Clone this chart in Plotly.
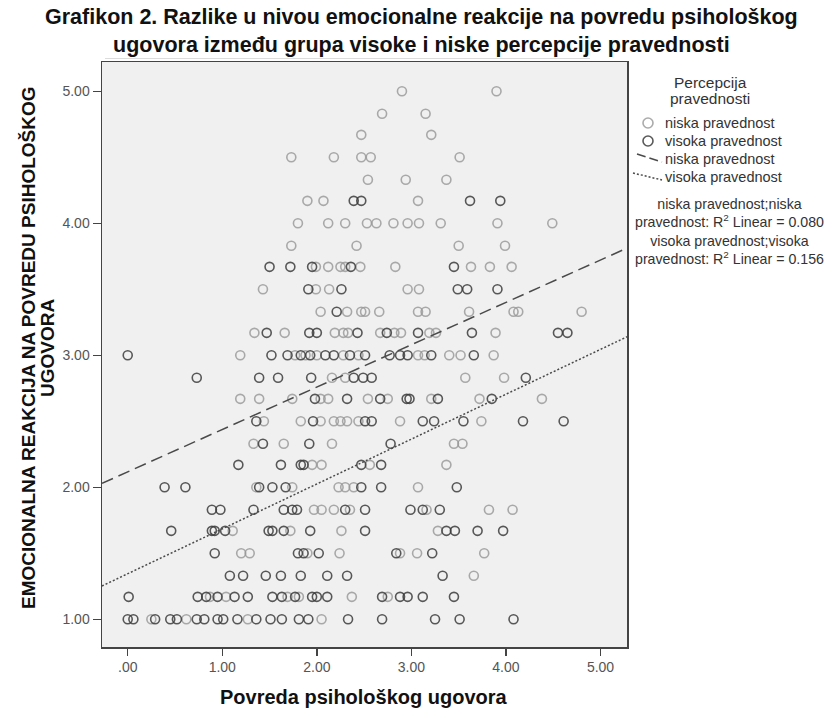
import plotly.graph_objects as go

# ---------------- data ----------------
x_tick_vals = [0, 1, 2, 3, 4, 5]
x_tick_text = [".00", "1.00", "2.00", "3.00", "4.00", "5.00"]
y_tick_vals = [1, 2, 3, 4, 5]
y_tick_text = ["1.00", "2.00", "3.00", "4.00", "5.00"]

# niska pravednost (low justice perception): y level -> x values
niska_levels = [5.00, 4.83, 4.67, 4.50, 4.33, 4.17, 4.00, 3.83, 3.67, 3.50, 3.33, 3.17, 3.00,
                2.83, 2.67, 2.50, 2.33, 2.17, 2.00, 1.83, 1.67, 1.50, 1.33, 1.17, 1.00]
niska_x_by_level = [
    [2.90, 3.90],
    [2.69, 3.15],
    [2.47, 3.21],
    [1.73, 2.18, 2.47, 2.57, 3.51],
    [2.54, 2.94, 3.37],
    [1.90, 2.07, 3.07],
    [1.80, 2.12, 2.30, 2.53, 2.63, 2.81, 2.96, 3.08, 3.31, 3.91, 4.49],
    [1.73, 2.42, 3.50, 3.99],
    [1.99, 2.12, 2.25, 2.30, 2.46, 2.83, 3.63, 3.83, 4.06],
    [1.43, 1.99, 2.13, 2.96, 3.08],
    [2.04, 2.32, 2.47, 2.51, 2.66, 3.07, 3.15, 3.61, 4.08, 4.13, 4.80],
    [1.34, 1.66, 2.19, 2.28, 2.33, 2.67, 2.82, 2.89, 3.19, 3.26, 3.89],
    [1.19, 1.77, 1.88, 2.00, 2.28, 2.44, 3.07, 3.14, 3.40, 3.52, 3.87],
    [2.16, 2.30, 3.57, 3.98],
    [1.19, 1.39, 1.74, 2.04, 2.12, 2.54, 2.75, 3.21, 3.72, 4.38],
    [1.44, 1.83, 2.04, 2.18, 2.25, 2.32, 2.44, 2.88, 3.74],
    [1.33, 1.65, 2.16, 3.45, 3.54],
    [1.95, 2.05, 2.56, 3.37],
    [1.36, 1.74, 2.23, 2.30, 2.39, 3.07],
    [1.97, 2.05, 2.18, 2.35, 3.16, 3.82, 4.07],
    [1.11, 1.72, 2.26, 3.28],
    [1.20, 1.29, 1.90, 2.24, 2.88, 3.06, 3.77],
    [3.66],
    [0.87, 1.04, 1.69, 1.81, 2.37, 2.75],
    [0.25, 0.62, 1.27, 2.05],
]

# visoka pravednost (high justice perception): y level -> x values
visoka_levels = [4.17, 3.67, 3.50, 3.33, 3.17, 3.00, 2.83, 2.67, 2.50, 2.33, 2.17, 2.00,
                 1.83, 1.67, 1.50, 1.33, 1.17, 1.00]
visoka_x_by_level = [
    [2.39, 2.47, 3.62, 3.94],
    [1.50, 1.72, 1.95, 2.36, 3.45],
    [1.91, 2.26, 3.49, 3.59, 3.91],
    [2.21],
    [1.47, 1.92, 2.00, 2.43, 2.74, 3.07, 3.64, 4.55, 4.65],
    [0.00, 1.52, 1.69, 1.83, 1.93, 2.09, 2.18, 2.35, 2.51, 2.77, 2.88, 2.96, 3.21, 3.66],
    [0.73, 1.39, 1.59, 1.94, 2.39, 2.49, 2.58, 4.21],
    [1.98, 2.32, 2.67, 2.95, 2.98, 3.28, 3.85],
    [1.36, 1.96, 2.51, 2.58, 3.12, 3.24, 3.55, 4.18, 4.61],
    [1.43, 1.92, 2.78],
    [1.17, 1.62, 1.83, 1.86, 2.47, 2.68],
    [0.39, 0.61, 1.39, 1.53, 1.67, 2.47, 2.68, 3.48],
    [0.89, 0.98, 1.33, 1.65, 1.74, 1.79, 2.30, 2.51, 2.99, 3.12, 3.30],
    [0.46, 0.89, 0.92, 1.03, 1.49, 1.53, 1.65, 1.93, 2.51, 3.37, 3.46, 3.70, 3.97],
    [0.92, 1.80, 1.86, 2.02, 2.84, 3.22],
    [1.08, 1.22, 1.46, 1.62, 1.83, 2.11, 2.32, 3.33],
    [0.01, 0.74, 0.83, 0.95, 1.13, 1.27, 1.53, 1.63, 1.77, 1.95, 2.00, 2.11, 2.69, 2.88, 2.96, 3.12, 3.45],
    [0.00, 0.06, 0.29, 0.45, 0.52, 0.73, 0.81, 0.95, 1.01, 1.16, 1.36, 1.51, 1.63, 1.81, 1.91, 2.33, 2.69, 3.25, 3.51, 4.08],
]

# linear fit lines (intercept, slope) and R^2 per group
group_names = ["niska pravednost", "visoka pravednost"]
fit_intercepts = [2.117, 1.345]
fit_slopes = [0.321, 0.340]
fit_r2 = [0.080, 0.156]

x_range = [-0.272, 5.28]
y_range = [0.79, 5.222]

title_lines = ["Grafikon 2. Razlike u nivou emocionalne reakcije na povredu psihološkog",
               "ugovora između grupa visoke i niske percepcije pravednosti"]
x_title = "Povreda psihološkog ugovora"
y_title_lines = ["EMOCIONALNA REAKCIJA NA POVREDU PSIHOLOŠKOG", "UGOVORA"]
legend_title_lines = ["Percepcija", "pravednosti"]


def flatten(levels, xs_by_level):
    xs, ys = [], []
    for lv, xs_l in zip(levels, xs_by_level):
        for xv in xs_l:
            xs.append(xv)
            ys.append(lv)
    return xs, ys


nx, ny = flatten(niska_levels, niska_x_by_level)
vx, vy = flatten(visoka_levels, visoka_x_by_level)

# ---------------- layout geometry (pixels) ----------------
W, H = 830, 708
ML, MR, MT, MB = 102, 203, 62, 61
PW, PH = W - ML - MR, H - MT - MB


def px(xp):
    return (xp - ML) / PW


def py(yp):
    return (H - MB - yp) / PH


FONT = "Liberation Sans, Arial, sans-serif"
LIGHT = "rgba(150,150,150,0.8)"
DARK = "rgba(60,60,60,0.85)"
colors = [LIGHT, DARK]
dashes = ["12px,6px", "2px,2px"]

fig = go.Figure()
for (xs, ys), name, col in zip([(nx, ny), (vx, vy)], group_names, colors):
    fig.add_trace(go.Scatter(
        x=xs, y=ys, mode="markers", name=name, showlegend=False,
        marker=dict(symbol="circle-open", size=9, color=col, line=dict(width=1.6, color=col)),
    ))

for name, a, b, dsh in zip(group_names, fit_intercepts, fit_slopes, dashes):
    fig.add_trace(go.Scatter(
        x=x_range, y=[a + b * x_range[0], a + b * x_range[1]], mode="lines", name=name,
        showlegend=False, line=dict(color="#4a4a4a", width=1.5, dash=dsh),
    ))

annotations = []
shapes = []

# chart title (two lines, one text block)
annotations.append(dict(text="<b>" + "<br>".join(title_lines) + "</b>", xref="paper", yref="paper",
                        x=px(421), y=py(31), xanchor="center", yanchor="middle", showarrow=False,
                        align="center", font=dict(family=FONT, size=21.5, color="#111")))
shapes.append(dict(type="line", xref="paper", yref="paper", x0=px(105), x1=px(590), y0=py(58.5), y1=py(58.5),
                   line=dict(color="#dcdcdc", width=1)))

# axis titles
annotations.append(dict(text=f"<b>{x_title}</b>", xref="paper", yref="paper", x=px(364), y=py(697),
                        xanchor="center", yanchor="middle", showarrow=False,
                        font=dict(family=FONT, size=20, color="#111")))
for txt, xc in zip(y_title_lines, [28, 47]):
    annotations.append(dict(text=f"<b>{txt}</b>", xref="paper", yref="paper", x=px(xc), y=py(348),
                            xanchor="center", yanchor="middle", showarrow=False, textangle=-90,
                            font=dict(family=FONT, size=19, color="#111")))

# legend (drawn manually to match the SPSS layout)
for txt, yc in zip(legend_title_lines, [82, 98]):
    annotations.append(dict(text=txt, xref="paper", yref="paper", x=px(710), y=py(yc),
                            xanchor="center", yanchor="middle", showarrow=False,
                            font=dict(family=FONT, size=15.5, color="#333")))
item_y = [123, 141, 159, 177]
item_labels = group_names + group_names
for txt, yc in zip(item_labels, item_y):
    annotations.append(dict(text=txt, xref="paper", yref="paper", x=px(663), y=py(yc),
                            xanchor="left", yanchor="middle", showarrow=False,
                            font=dict(family=FONT, size=14.5, color="#333")))
for col, yc in zip(colors, item_y[:2]):
    shapes.append(dict(type="circle", xref="paper", yref="paper",
                       x0=px(648 - 5), x1=px(648 + 5), y0=py(yc + 5), y1=py(yc - 5),
                       line=dict(color=col, width=1.6)))
shapes.append(dict(type="line", xref="paper", yref="paper", x0=px(637), y0=py(154), x1=px(662), y1=py(162),
                   line=dict(color="#4a4a4a", width=1.5, dash="9px,4px")))
shapes.append(dict(type="line", xref="paper", yref="paper", x0=px(633), y0=py(173), x1=px(662), y1=py(180),
                   line=dict(color="#4a4a4a", width=1.5, dash="2px,2px")))

r2_text = "<br>".join([
    f"{group_names[0]};{group_names[0].split()[0]}",
    f"{group_names[0].split()[1]}: R<sup>2</sup> Linear = {fit_r2[0]:.3f}",
    f"{group_names[1]};{group_names[1].split()[0]}",
    f"{group_names[1].split()[1]}: R<sup>2</sup> Linear = {fit_r2[1]:.3f}",
])
annotations.append(dict(text=r2_text, xref="paper", yref="paper", x=px(729), y=py(232),
                        xanchor="center", yanchor="middle", showarrow=False, align="center",
                        font=dict(family=FONT, size=14.2, color="#333")))

fig.update_layout(
    width=W, height=H,
    margin=dict(l=ML, r=MR, t=MT, b=MB, autoexpand=False),
    paper_bgcolor="white", plot_bgcolor="#f0f0f1",
    font=dict(family=FONT, size=14, color="#333"),
    showlegend=False,
    xaxis=dict(
        range=x_range, tickvals=x_tick_vals, ticktext=x_tick_text, automargin=False,
        ticks="outside", ticklen=7, tickwidth=1.5, tickcolor="#444",
        tickfont=dict(family=FONT, size=14, color="#555"),
        showline=True, linecolor="#444", linewidth=1.5, mirror=True,
        showgrid=False, zeroline=False,
    ),
    yaxis=dict(
        range=y_range, tickvals=y_tick_vals, ticktext=y_tick_text, automargin=False,
        ticks="outside", ticklen=8, tickwidth=1.5, tickcolor="#444",
        tickfont=dict(family=FONT, size=14, color="#555"),
        showline=True, linecolor="#444", linewidth=1.5, mirror=True,
        showgrid=False, zeroline=False,
    ),
    annotations=annotations,
    shapes=shapes,
)

fig.write_html("out.html", config={"displayModeBar": False, "staticPlot": True},
               post_script="document.body.style.margin='0px';")
